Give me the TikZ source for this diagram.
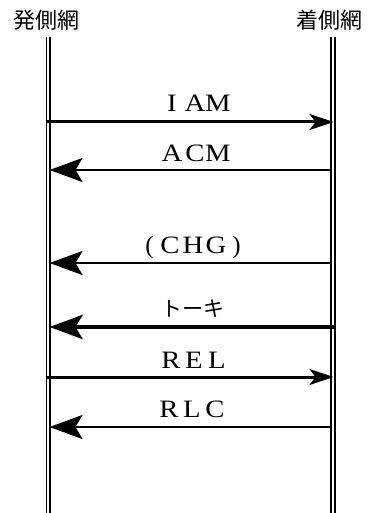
\documentclass[tikz,border=0pt]{standalone}
\usepackage{fontspec}
\usepackage{graphicx}
\usetikzlibrary{arrows.meta}
\newfontfamily\jpfont{Noto Sans CJK JP}
\newfontfamily\latfont{Liberation Serif}
\newcommand\LB[1]{\makebox[23pt]{\scalebox{1.15}[1]{#1}}}
\newcommand\PB[1]{\makebox[18pt]{#1}}
\tikzset{
  title/.style={font=\jpfont\fontsize{22}{22}\selectfont, inner sep=0pt},
  msg/.style={font=\latfont\fontsize{25}{25}\selectfont, inner sep=0pt, anchor=base},
  life/.style={line width=1.8pt},
  lmsg/.style={line width=2.4pt, -{Stealth[length=33pt,width=24pt,inset=7pt]}},
  rmsg/.style={line width=3pt, -{Stealth[length=24pt,width=16pt,inset=6pt]}},
}
\begin{document}
\begin{tikzpicture}[x=1pt,y=-1pt]
\useasboundingbox (0,0) rectangle (369,513);
\node[title] (orig) at (46,20) {発側網};
\node[title] (term) at (329,20) {着側網};
% lifelines
\coordinate (La) at (46.5,37); \coordinate (Lab) at (46.5,513);
\coordinate (Lb) at (50,37); \coordinate (Lbb) at (50,513);
\coordinate (Ra) at (331,37); \coordinate (Rab) at (331,513);
\coordinate (Rb) at (335,37); \coordinate (Rbb) at (335,513);
\draw[life] (La) -- (Lab);
\draw[life] (Lb) -- (Lbb);
\draw[life] (Ra) -- (Rab);
\draw[line width=2.6pt] (Rb) -- (Rbb);
% message end points
\coordinate (iamL) at (46.5,122); \coordinate (iamR) at (333.5,122);
\coordinate (acmL) at (49.5,170); \coordinate (acmR) at (331,170);
\coordinate (chgL) at (49.5,263); \coordinate (chgR) at (331,263);
\coordinate (tkL) at (49.5,327); \coordinate (tkR) at (336,327);
\coordinate (relL) at (46.5,377); \coordinate (relR) at (333.5,377);
\coordinate (rlcL) at (49.5,427); \coordinate (rlcR) at (331,427);
\draw[rmsg] (iamL) -- (iamR);
\draw[lmsg] (acmR) -- (acmL);
\draw[lmsg] (chgR) -- (chgL);
\draw[lmsg, line width=4.5pt] (tkR) -- (tkL);
\draw[rmsg] (relL) -- (relR);
\draw[lmsg] (rlcR) -- (rlcL);
% labels
\node[msg] (liam) at (195,112) {\LB{I}\LB{A}\LB{M}};
\node[msg] (lacm) at (195,161) {\LB{A}\LB{C}\LB{M}};
\node[msg] (lchg) at (193,253) {\PB{(}\LB{C}\LB{H}\LB{G}\PB{)}};
\node[title, font=\jpfont\fontsize{21}{21}\selectfont] (ltk) at (193,309) {トーキ};
\node[msg] (lrel) at (194,368) {\LB{R}\LB{E}\LB{L}};
\node[msg] (lrlc) at (192,417) {\LB{R}\LB{L}\LB{C}};
\end{tikzpicture}
\end{document}
